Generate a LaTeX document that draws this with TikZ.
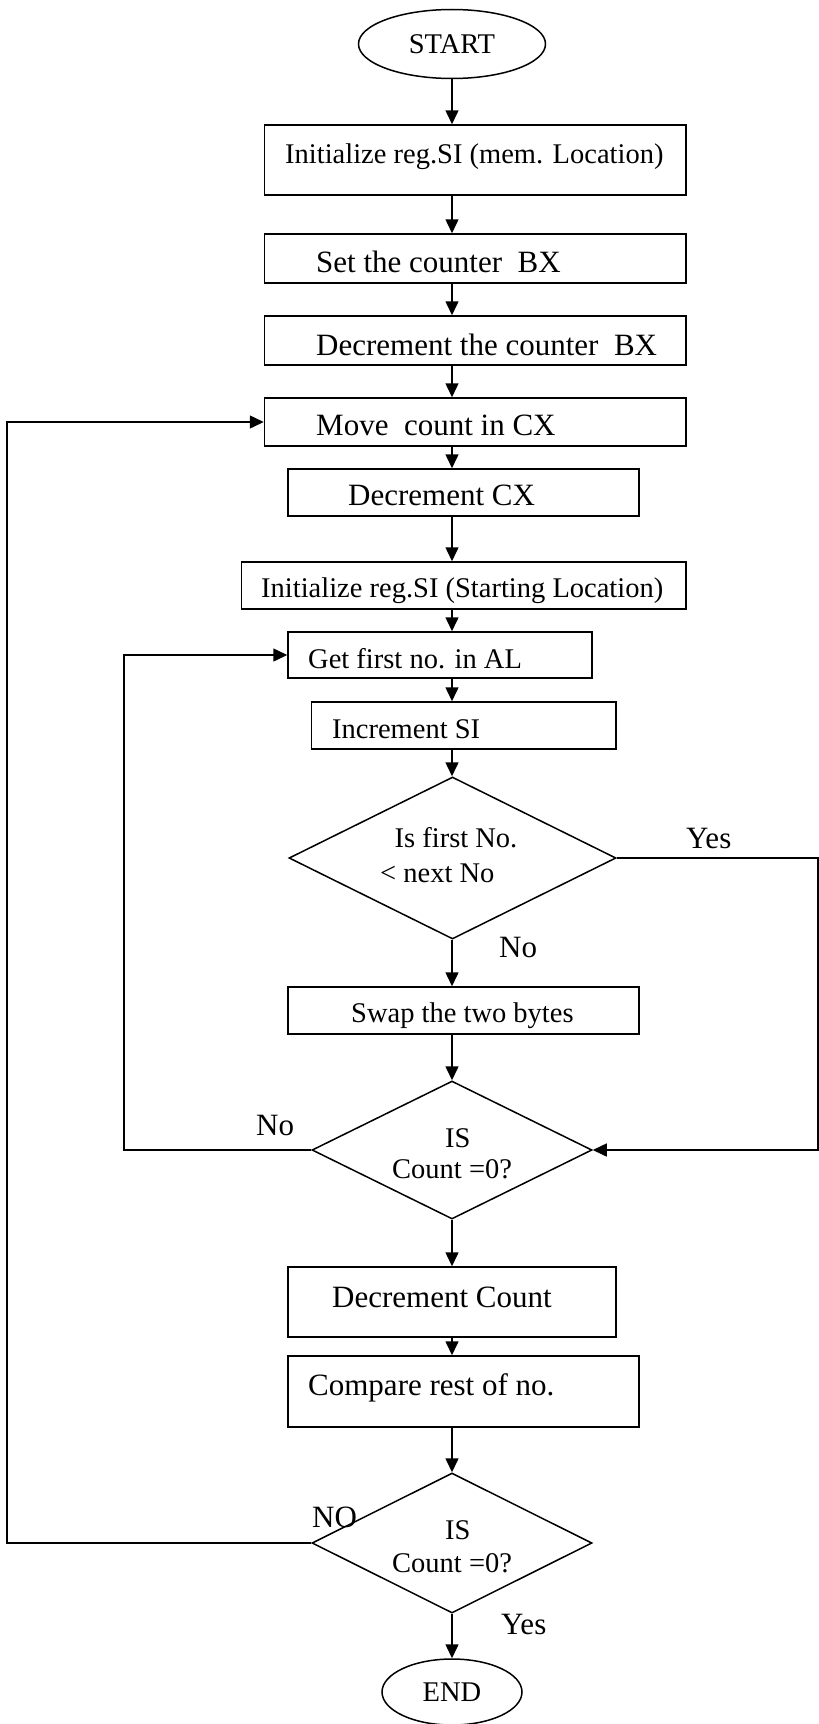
\documentclass[tikz,border=0pt]{standalone}
\usepackage{fontspec}
\setmainfont{Liberation Serif}
\usetikzlibrary{arrows.meta,shapes.geometric}
\newcommand\fsa{\fontsize{28.5bp}{34bp}\selectfont}
\newcommand\fsb{\fontsize{31bp}{37bp}\selectfont}
\begin{document}
\begin{tikzpicture}[x=1bp,y=-1bp,
  box/.style={draw,line width=1.5bp,inner sep=0pt,rectangle},
  dia/.style={draw,line width=1.5bp,diamond,inner sep=0pt},
  term/.style={draw,line width=1.5bp,ellipse,inner sep=0pt,font=\fsa},
  txa/.style={inner sep=0pt,anchor=base west,font=\fsa},
  txb/.style={inner sep=0pt,anchor=base west,font=\fsb},
  arr/.style={line width=1.5bp,-{Triangle[length=14bp,width=13bp]}},
  ln/.style={line width=1.5bp}]
\useasboundingbox (0,0) rectangle (819,1724);
% terminals
\node[term,minimum width=187bp,minimum height=69bp] (start) at (452,44) {START};
\node[term,minimum width=140bp,minimum height=66bp] (end) at (452,1692) {END};
% boxes
\node[box,minimum width=421.5bp,minimum height=70bp] (b1) at (475.25,160) {};
\node[box,minimum width=421.5bp,minimum height=49bp] (b2) at (475.25,258.5) {};
\node[box,minimum width=421.5bp,minimum height=49bp] (b3) at (475.25,340.5) {};
\node[box,minimum width=421.5bp,minimum height=48bp] (b4) at (475.25,422) {};
\node[box,minimum width=351bp,minimum height=47bp] (b5) at (463.5,492.5) {};
\node[box,minimum width=444.5bp,minimum height=47bp] (b6) at (463.75,585.5) {};
\node[box,minimum width=304bp,minimum height=46bp] (b7) at (440,655) {};
\node[box,minimum width=304.5bp,minimum height=47bp] (b8) at (463.75,725.5) {};
\node[dia,minimum width=327bp,minimum height=162bp] (d1) at (452.5,858) {};
\node[box,minimum width=351bp,minimum height=47bp] (b9) at (463.5,1010.5) {};
\node[dia,minimum width=280bp,minimum height=138bp] (d2) at (452,1150) {};
\node[box,minimum width=328bp,minimum height=70bp] (b10) at (452,1302) {};
\node[box,minimum width=351bp,minimum height=71bp] (b11) at (463.5,1391.5) {};
\node[dia,minimum width=280bp,minimum height=140bp] (d3) at (452,1543) {};
% texts
\node[txa] (t1) at (285,163) {Initialize reg.SI (mem. Location)};
\node[txb] (t2) at (316,272) {Set the counter\ \ BX};
\node[txb] (t3) at (316,355) {Decrement the counter\ \ BX};
\node[txb] (t4) at (316,435) {Move\ \ count in CX};
\node[txb] (t5) at (348,505) {Decrement CX};
\node[txa] (t6) at (261,597) {Initialize reg.SI (Starting Location)};
\node[txa] (t7) at (308,668) {Get first no. in AL};
\node[txa] (t8) at (332,738) {Increment SI};
\node[txa,anchor=base] (t9a) at (456,847) {Is first No.};
\node[txa] (t9b) at (380,882) {< next No};
\node[txb] (yes1) at (686,848) {Yes};
\node[txb] (no1) at (499,957) {No};
\node[txa] (t10) at (351,1022) {Swap the two bytes};
\node[txb] (no2) at (256,1135) {No};
\node[txa] (t11a) at (445,1147) {IS};
\node[txa] (t11b) at (392,1178) {Count =0?};
\node[txb] (t12) at (332,1307) {Decrement Count};
\node[txb] (t13) at (308,1395) {Compare rest of no.};
\node[txb] (no3) at (312,1527) {NO};
\node[txa] (t14a) at (445,1539) {IS};
\node[txa] (t14b) at (392,1572) {Count =0?};
\node[txb] (yes2) at (501,1634) {Yes};
% coordinates for loop lines
\coordinate (r1) at (818,858);
\coordinate (r2) at (818,1150);
\coordinate (l1) at (124,1150);
\coordinate (l2) at (124,655);
\coordinate (k1) at (7,1543);
\coordinate (k2) at (7,422);
% main flow
\draw[arr] (start.south) -- (b1.north -| start);
\draw[arr] (b1.south -| start) -- (b2.north -| start);
\draw[arr] (b2.south -| start) -- (b3.north -| start);
\draw[arr] (b3.south -| start) -- (b4.north -| start);
\draw[arr] (b4.south -| start) -- (b5.north -| start);
\draw[arr] (b5.south -| start) -- (b6.north -| start);
\draw[arr] (b6.south -| start) -- (b7.north -| start);
\draw[arr] (b7.south -| start) -- (b8.north -| start);
\draw[arr] (b8.south -| start) -- (d1.north -| start);
\draw[arr] (d1.south -| start) -- (b9.north -| start);
\draw[arr] (b9.south -| start) -- (d2.north);
\draw[arr] (d2.south) -- (b10.north -| start);
\draw[arr] (b10.south -| start) -- (b11.north -| start);
\draw[arr] (b11.south -| start) -- (d3.north);
\draw[arr] (d3.south) -- (end.north);
% loops
\draw[arr] (d1.east) -- (r1) -- (r2) -- (d2.east);
\draw[arr] (d2.west) -- (l1) -- (l2) -- (b7.west);
\draw[arr] (d3.west) -- (k1) -- (k2) -- (b4.west);
\end{tikzpicture}
\end{document}
